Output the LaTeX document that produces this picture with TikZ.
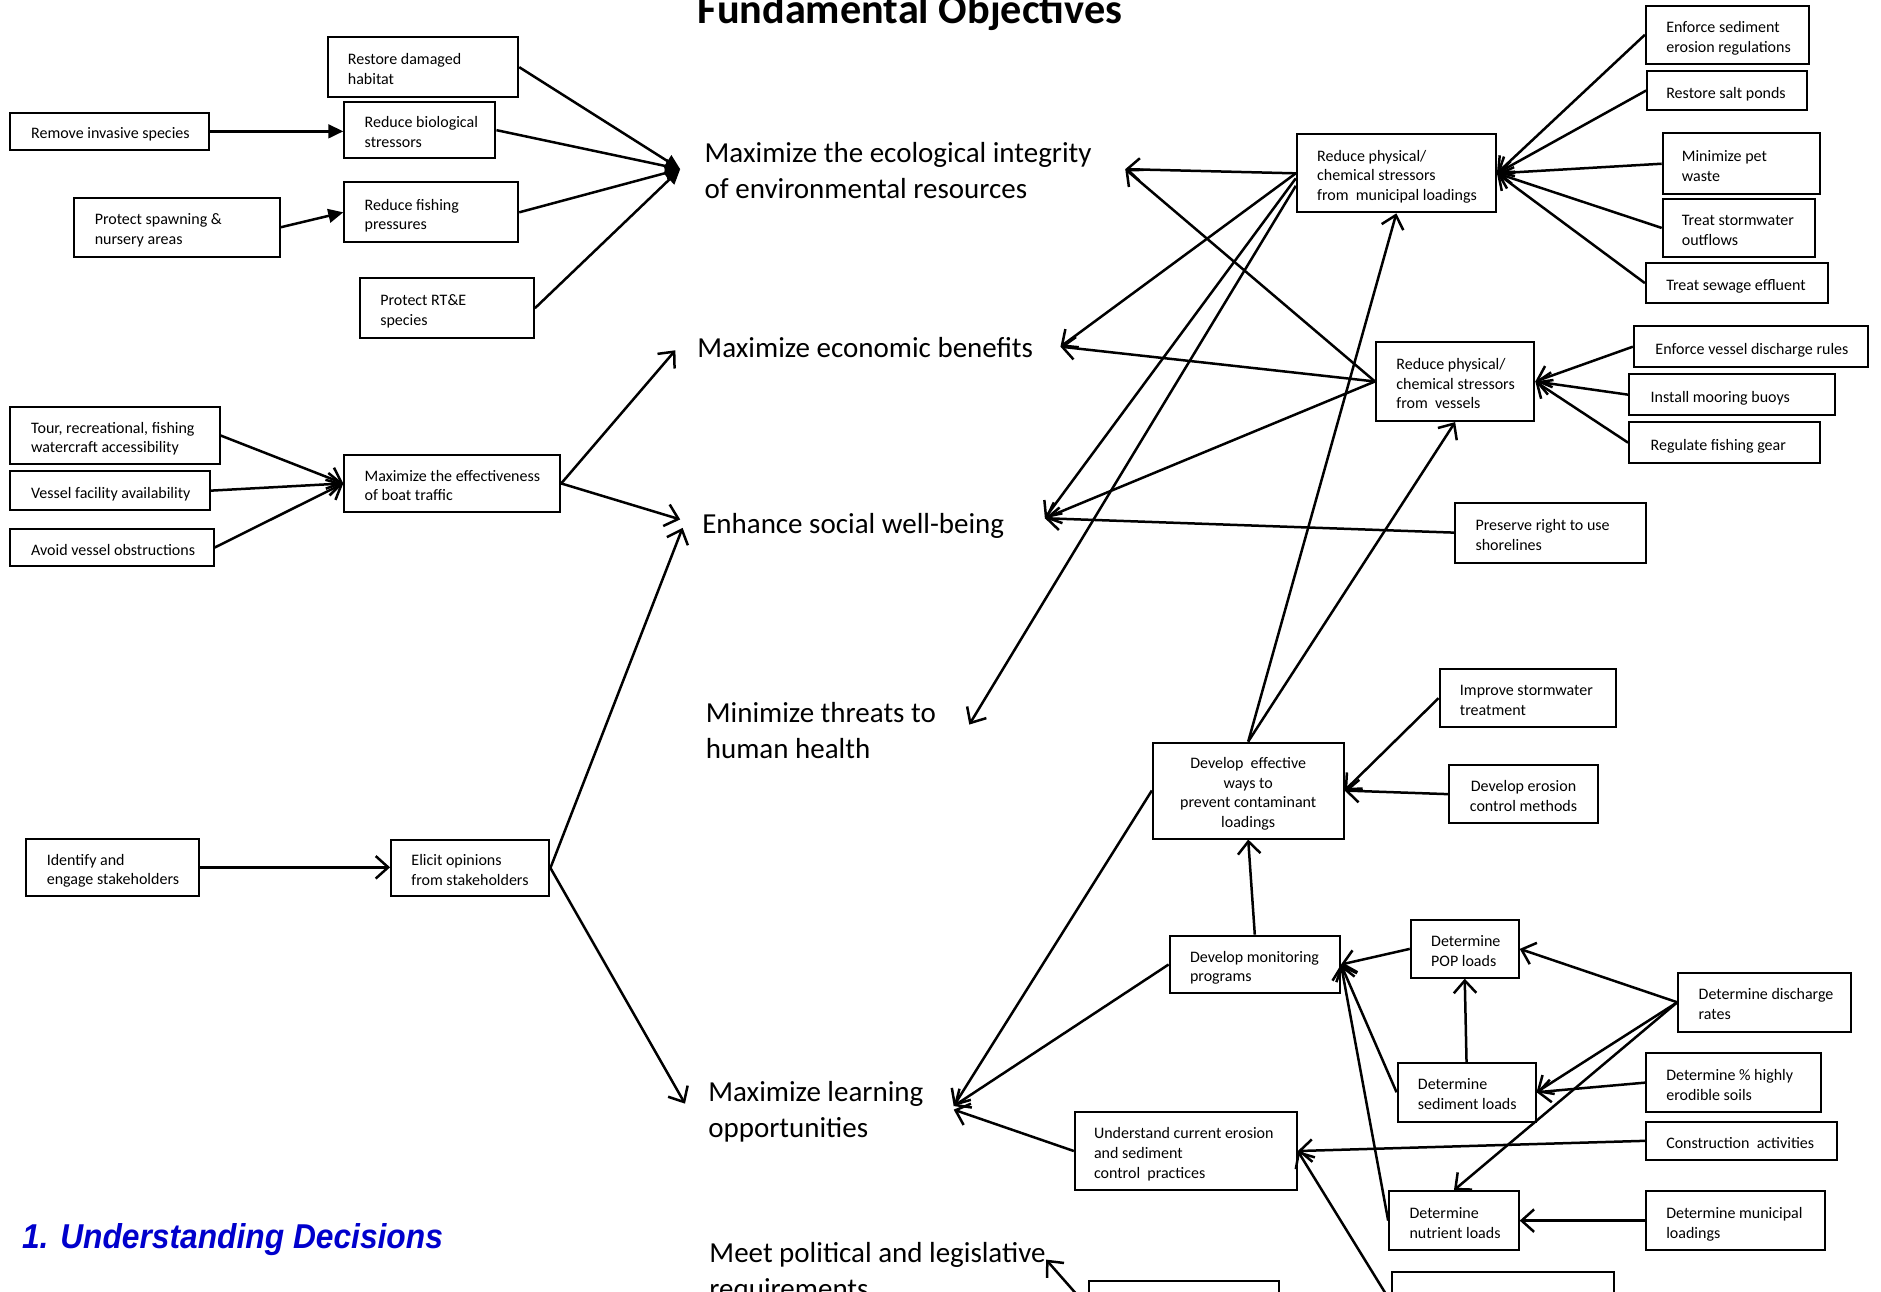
\documentclass[tikz,border=0pt]{standalone}
\usepackage{fontspec}
\setmainfont{Carlito}
\newfontfamily\headfont[FakeStretch=0.92]{Liberation Sans}
\usetikzlibrary{arrows.meta,calc}
\definecolor{deepblue}{RGB}{0,0,204}

\tikzset{
  box/.style={draw, line width=0.8pt, rectangle, inner ysep=0pt,
    font=\fontsize{6.4}{7.9}\selectfont},
  goal/.style={inner sep=0pt, anchor=west, align=left,
    font=\fontsize{11.6}{14.4}\selectfont},
  link/.style={line width=1pt, -{Straight Barb[length=5pt,width=9pt]}},
  fillink/.style={line width=1pt, -{Triangle[length=6pt,width=5.5pt]}},
}

% \bx[alignment]{name}{left}{top}{right}{bottom}{padding}{lines}
\newcommand\bx[8][l]{%
  \pgfmathsetlengthmacro\bxw{(#5-#3)*0.48pt}%
  \pgfmathsetlengthmacro\bxh{(#6-#4)*0.48pt}%
  \pgfmathsetlengthmacro\bxt{(#5-#3-2*#7)*0.48pt}%
  \pgfmathsetlengthmacro\bxp{#7*0.48pt}%
  \node[box, minimum width=\bxw, minimum height=\bxh, inner xsep=\bxp]
    (#2) at ({(#3+#5)/2},{(#4+#6)/2})
    {\raisebox{-1.44pt}[\height][\depth]{\makebox[\bxt][#1]{%
      \begin{tabular}{@{}#1@{}}#8\end{tabular}}}};%
}

\begin{document}
\begin{tikzpicture}[x=0.48pt,y=-0.48pt]
\useasboundingbox (0,0) rectangle (1568,1077);
\fill[white] (0,0) rectangle (1568,1077);
\clip (0,0) rectangle (1568,1077);

% headings
\node[anchor=base, inner sep=0pt, font=\bfseries\fontsize{16.9}{20}\selectfont]
  (title) at (758.5,19.5) {Fundamental Objectives};
\node[anchor=base west, inner sep=0pt, text=deepblue,
  font=\headfont\bfseries\itshape\fontsize{13.8}{16}\selectfont]
  (section) at (18,1041) {1. Understanding Decisions};

% fundamental objectives
\node[goal] (eco) at (587,142) {Maximize the ecological integrity\\of environmental resources};
\node[goal] (econ) at (581,290) {Maximize economic benefits};
\node[goal] (social) at (585,438) {Enhance social well-being};
\node[goal] (health) at (588,609) {Minimize threats to\\human health};
\node[goal] (learn) at (590,927) {Maximize learning\\opportunities};
\node[goal] (meet) at (591,1061) {Meet political and legislative\\requirements};

% arrow tips beside the objectives
\coordinate (ecoL) at (567,141);
\coordinate (ecoR) at (938,141);
\coordinate (econL) at (563,292);
\coordinate (econR) at (884,289);
\coordinate (socL1) at (567,433);
\coordinate (socL2) at (569,440);
\coordinate (socR) at (871,432);
\coordinate (healthR) at (808,604);
\coordinate (learnL) at (571,920);
\coordinate (learnR) at (795,922);
\coordinate (learnR2) at (795,925);
\coordinate (meetR) at (872,1050);

% means objectives, left side
\bx{restore}{273}{31}{432}{81}{17}{Restore damaged\\habitat}
\bx{remove}{8}{94}{174}{125}{18}{Remove invasive species}
\bx{biostress}{287}{85}{413}{132}{17}{Reduce biological\\stressors}
\bx{spawn}{62}{165}{233}{214}{17}{Protect spawning \&\\nursery areas}
\bx{fishing}{287}{152}{432}{202}{17}{Reduce fishing\\pressures}
\bx{rte}{300}{232}{445}{282}{17}{Protect RT\&E\\species}
\bx{tour}{8}{339}{183}{387}{18}{Tour, recreational, fishing\\watercraft accessibility}
\bx{facility}{8}{393}{175}{425}{18}{Vessel facility availability}
\bx{obstruct}{8}{441}{178}{472}{18}{Avoid vessel obstructions}
\bx{boat}{287}{379}{467}{427}{17}{Maximize the effectiveness\\of boat traffic}
\bx{identify}{22}{699}{166}{747}{17}{Identify and\\engage stakeholders}
\bx{elicit}{326}{700}{458}{747}{17}{Elicit opinions\\from stakeholders}

% means objectives, right side
\bx{muni}{1081}{112}{1247}{177}{17}{Reduce physical/\\chemical stressors\\from\ \ municipal loadings}
\bx{sedreg}{1372}{5}{1508}{53}{17}{Enforce sediment\\erosion regulations}
\bx{saltponds}{1373}{59}{1506}{92}{16}{Restore salt ponds}
\bx{petwaste}{1386}{111}{1517}{162}{16}{Minimize pet\\waste}
\bx{stormout}{1386}{166}{1513}{214}{16}{Treat stormwater\\outflows}
\bx{sewage}{1372}{219}{1524}{253}{17}{Treat sewage effluent}
\bx{vessels}{1147}{285}{1279}{351}{17}{Reduce physical/\\chemical stressors\\from\ \ vessels}
\bx{vdischarge}{1362}{272}{1557}{306}{18}{Enforce vessel discharge rules}
\bx{mooring}{1358}{312}{1530}{346}{18}{Install mooring buoys}
\bx{gear}{1358}{352}{1517}{386}{18}{Regulate fishing gear}
\bx{shore}{1213}{419}{1372}{469}{17}{Preserve right to use\\shorelines}
\bx[c]{prevent}{961}{619}{1120}{699}{8}{Develop\ \ effective\\ways to\\prevent contaminant\\loadings}
\bx{stormtreat}{1200}{558}{1347}{606}{17}{Improve stormwater\\treatment}
\bx[c]{erosionctl}{1208}{638}{1332}{686}{10}{Develop erosion\\control methods}
\bx{monitor}{975}{780}{1117}{828}{17}{Develop monitoring\\programs}
\bx{pop}{1176}{767}{1266}{815}{17}{Determine\\POP loads}
\bx{dischrate}{1399}{811}{1543}{860}{17}{Determine discharge\\rates}
\bx{sediment}{1165}{886}{1280}{935}{17}{Determine\\sediment loads}
\bx{erodible}{1372}{878}{1518}{927}{17}{Determine \% highly\\erodible soils}
\bx{construct}{1372}{935}{1531}{967}{17}{Construction\ \ activities}
\bx{understand}{896}{927}{1081}{992}{16}{Understand current erosion\\and sediment\\control\ \ practices}
\bx{nutrient}{1158}{993}{1266}{1042}{17}{Determine\\nutrient loads}
\bx{muniload}{1372}{993}{1521}{1042}{17}{Determine municipal\\loadings}
\bx{lowleft}{908}{1068}{1066}{1112}{17}{}
\bx{lowright}{1160}{1060}{1345}{1110}{17}{Understand l\\ }

% connectors, left side
\draw[fillink] (remove.east) -- (remove.east -| biostress.west);
\draw[fillink] (spawn.east) -- (fishing.west);
\foreach \s in {restore,biostress,fishing,rte}
  \draw[fillink] (\s.east) -- (ecoL);
\foreach \s in {tour,facility,obstruct}
  \draw[link] (\s.east) -- (boat.west);
\draw[link] (boat.east) -- (econL);
\draw[link] (boat.east) -- (socL1);
\draw[link] (identify.east) -- (identify.east -| elicit.west);
\draw[link] (elicit.east) -- (socL2);
\draw[link] (elicit.east) -- (learnL);

% connectors, right side
\foreach \s in {sedreg,saltponds,petwaste,stormout,sewage}
  \draw[link] (\s.west) -- (muni.east);
\draw[link] (muni.west) -- (ecoR);
\draw[link] (muni.west) -- (econR);
\draw[link] ([yshift=-2pt]muni.west) -- (socR);
\draw[link] ([yshift=-5pt]muni.west) -- (healthR);
\draw[link] (vessels.west) -- (ecoR);
\draw[link] (vessels.west) -- (econR);
\draw[link] (vessels.west) -- (socR);
\foreach \s in {vdischarge,mooring,gear}
  \draw[link] (\s.west) -- (vessels.east);
\draw[link] (shore.west) -- (socR);
\draw[link] (prevent.north) -- (muni.south);
\draw[link] (prevent.north) -- (vessels.south);
\draw[link] (prevent.west) -- (learnR);
\draw[link] (stormtreat.west) -- (prevent.east);
\draw[link] (erosionctl.west) -- (prevent.east);
\draw[link] (monitor.north) -- (prevent.south);
\draw[link] (monitor.west) -- (learnR);
\draw[link] (pop.west) -- (monitor.east);
\draw[link] (dischrate.west) -- (pop.east);
\draw[link] (dischrate.west) -- (sediment.east);
\draw[link] (dischrate.west) -- (nutrient.north);
\draw[link] (sediment.north) -- (pop.south);
\draw[link] (sediment.west) -- (monitor.east);
\draw[link] (erodible.west) -- (sediment.east);
\draw[link] (construct.west) -- (understand.east);
\draw[link] (understand.west) -- (learnR2);
\draw[link] (nutrient.west) -- (monitor.east);
\draw[link] (muniload.west) -- (nutrient.east);
\draw[link] (lowleft.west) -- (meetR);
\draw[link] (lowright.west) -- (understand.east);
\end{tikzpicture}
\end{document}
